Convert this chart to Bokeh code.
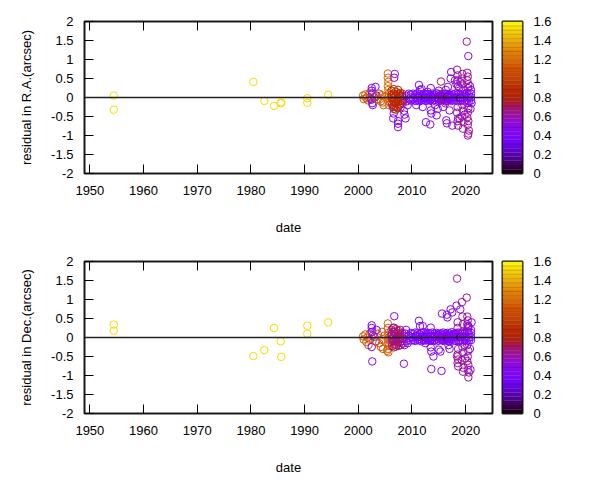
import math
from bokeh.plotting import figure
from bokeh.layouts import row, column
from bokeh.models import (LinearAxis, FixedTicker, CustomJSTickFormatter, Range1d,
                          Span, ColumnDataSource)
from bokeh.embed import file_html
from bokeh.resources import INLINE

FONT = "Liberation Sans"

# ---------------- data ----------------
x_ticks = [1950, 1960, 1970, 1980, 1990, 2000, 2010, 2020]
y_ticks = [-2, -1.5, -1, -0.5, 0, 0.5, 1, 1.5, 2]
cb_ticks = [0, 0.2, 0.4, 0.6, 0.8, 1, 1.2, 1.4, 1.6]

# photographic plates (before 2000)
old_date = [1954.45, 1954.45, 1980.45, 1982.5, 1984.3, 1985.55, 1985.65, 1990.5, 1990.5, 1994.4]
old_ra = [0.05, -0.32, 0.41, -0.09, -0.22, -0.15, -0.13, -0.02, -0.14, 0.07]
old_dec = [0.34, 0.18, -0.49, -0.33, 0.25, -0.10, -0.51, 0.31, 0.10, 0.40]
old_w = 1.52

# 2001-2005, orange group
d1 = [2000.9, 2001.0, 2001.3, 2001.5, 2001.7, 2001.9, 2002.1, 2002.2, 2002.4,
      2003.3, 2003.6, 2003.9, 2004.2, 2004.4, 2004.6, 2004.7, 2004.9]
ra1 = [0.05, -0.04, 0.08, -0.02, 0.02, -0.08, 0.12, 0.00, -0.06,
       0.03, -0.05, 0.10, -0.10, 0.06, -0.13, -0.20, 0.02]
dec1 = [0.03, -0.05, 0.08, -0.12, 0.00, -0.20, 0.10, -0.06, 0.14,
        -0.10, 0.10, -0.15, -0.25, 0.15, -0.30, -0.05, 0.05]
w1_ra, w1_dec = 1.12, 1.12

# 2002-2003, purple group
d2 = [2002.5, 2002.5, 2002.6, 2002.5, 2002.6, 2002.7, 2003.2, 2003.0, 2003.4]
ra2 = [0.25, 0.18, 0.10, -0.05, -0.15, -0.20, 0.28, 0.00, 0.05]
dec2 = [0.32, 0.25, 0.15, -0.25, -0.63, 0.05, -0.10, 0.02, 0.20]
w2_ra, w2_dec = 0.42, 0.42

# 2005, orange column
d3 = [2005.5, 2005.5, 2005.6, 2005.5, 2005.6, 2005.7, 2005.5, 2005.6, 2005.7, 2005.4]
ra3 = [0.63, 0.52, 0.41, 0.30, 0.20, 0.10, 0.00, -0.10, -0.20, 0.05]
dec3 = [0.37, 0.25, 0.12, -0.05, -0.15, -0.22, -0.30, -0.39, 0.00, -0.35]
w3_ra, w3_dec = 1.2, 1.15

# 2006-2008, dense group
d4 = [2006.2, 2006.2, 2006.3, 2006.2, 2006.3, 2006.2,
      2006.6, 2006.7, 2006.6, 2006.6, 2006.7, 2006.6,
      2007.0, 2007.0, 2007.1, 2007.0, 2007.1, 2007.0,
      2007.4, 2007.5, 2007.4, 2007.4, 2007.5, 2007.4,
      2007.8, 2007.8, 2007.9, 2007.8, 2007.9, 2007.8,
      2008.2, 2008.3, 2008.2, 2008.3, 2008.2, 2008.3]
ra4 = [0.18, 0.08, -0.02, -0.12, -0.20, 0.02,
       0.22, 0.10, 0.00, -0.10, -0.22, -0.30,
       0.15, 0.05, -0.05, -0.15, -0.25, -0.32,
       0.20, 0.08, -0.03, -0.12, -0.20, -0.28,
       0.12, 0.02, -0.08, -0.18, -0.26, 0.06,
       0.10, 0.00, -0.10, -0.05, 0.04, -0.15]
dec4 = [0.20, 0.10, -0.02, -0.12, -0.22, 0.05,
        0.26, 0.14, 0.02, -0.08, -0.18, -0.26,
        0.22, 0.10, 0.00, -0.10, -0.20, -0.24,
        0.18, 0.06, -0.04, -0.14, -0.22, 0.12,
        0.20, 0.08, -0.03, -0.12, -0.20, 0.02,
        0.12, 0.00, -0.10, -0.04, 0.06, -0.16]
w4_ra, w4_dec = 0.85, 0.7

# 2006-2009, purple scatter
d5 = [2006.8, 2006.7, 2006.5, 2006.6, 2006.5, 2007.4, 2007.4, 2007.4,
      2008.5, 2008.6, 2008.8, 2009.2, 2008.9, 2009.0, 2009.4, 2009.6]
ra5 = [0.62, 0.52, -0.25, -0.42, -0.55, -0.62, -0.69, -0.78,
       -0.35, -0.45, -0.55, -0.20, 0.05, -0.10, 0.10, -0.05]
dec5 = [0.10, 0.56, 0.25, 0.15, -0.10, 0.05, -0.10, -0.05,
        -0.69, -0.20, 0.10, -0.15, 0.20, -0.10, 0.05, -0.02]
w5_ra, w5_dec = 0.45, 0.45

# 2010-2021, core band
band_date = [2009.8, 2010.2, 2010.6, 2011.0, 2011.4, 2011.8, 2012.2, 2012.6, 2013.0, 2013.4,
             2013.8, 2014.2, 2014.6, 2015.0, 2015.4, 2015.8, 2016.2, 2016.6, 2017.0, 2017.4,
             2017.8, 2018.2, 2018.6, 2019.0, 2019.4, 2019.8, 2020.2, 2020.6, 2021.0]
band_ra_hi = [0.08, 0.10, 0.07, 0.11, 0.09, 0.06, 0.10, 0.08, 0.09, 0.07,
              0.10, 0.08, 0.11, 0.09, 0.06, 0.10, 0.08, 0.09, 0.07, 0.10,
              0.08, 0.11, 0.09, 0.07, 0.10, 0.08, 0.12, 0.09, 0.10]
band_ra_mid = [0.00, -0.02, 0.02, 0.00, -0.01, 0.01, -0.02, 0.00, 0.02, -0.01,
               0.00, 0.01, -0.02, 0.00, 0.02, -0.01, 0.00, 0.01, -0.02, 0.00,
               0.02, -0.01, 0.00, 0.01, -0.02, 0.00, 0.02, -0.01, 0.00]
band_ra_lo = [-0.08, -0.06, -0.09, -0.07, -0.10, -0.08, -0.06, -0.09, -0.07, -0.08,
              -0.10, -0.06, -0.08, -0.09, -0.07, -0.06, -0.10, -0.08, -0.07, -0.09,
              -0.06, -0.08, -0.10, -0.07, -0.09, -0.08, -0.06, -0.10, -0.08]
band_dec_hi = [0.12, 0.10, 0.13, 0.11, 0.09, 0.12, 0.14, 0.10, 0.12, 0.11,
               0.13, 0.10, 0.12, 0.09, 0.11, 0.13, 0.10, 0.12, 0.11, 0.14,
               0.10, 0.12, 0.13, 0.11, 0.10, 0.12, 0.14, 0.11, 0.12]
band_dec_mid = [0.02, 0.00, 0.03, 0.01, 0.02, 0.00, 0.03, 0.02, 0.01, 0.00,
                0.02, 0.03, 0.01, 0.02, 0.00, 0.01, 0.03, 0.02, 0.00, 0.01,
                0.02, 0.03, 0.00, 0.02, 0.01, 0.03, 0.02, 0.00, 0.01]
band_dec_lo = [-0.08, -0.07, -0.09, -0.06, -0.08, -0.10, -0.07, -0.08, -0.06, -0.09,
               -0.08, -0.07, -0.10, -0.08, -0.06, -0.09, -0.07, -0.08, -0.10, -0.06,
               -0.08, -0.09, -0.07, -0.08, -0.10, -0.06, -0.09, -0.08, -0.07]
band_w = 0.4

# 2010-2017, scatter large in R.A.
d7r = [2010.8, 2011.3, 2011.5, 2011.8, 2012.0, 2012.6, 2013.4, 2013.5, 2013.5, 2013.6, 2014.3, 2014.6,
       2014.8, 2015.8, 2016.3, 2016.4, 2016.5, 2016.7, 2017.0, 2017.2, 2017.3, 2017.5, 2012.9, 2015.0]
ra7r = [-0.20, 0.33, 0.20, 0.22, -0.25, -0.65, -0.71, 0.25, -0.34, -0.42, -0.20, -0.47,
        -0.30, -0.25, 0.20, -0.60, -0.68, 0.28, -0.34, 0.50, 0.67, -0.74, 0.15, 0.18]
dec7r = [0.05, -0.04, 0.08, -0.06, 0.03, 0.06, -0.05, 0.04, -0.07, 0.02, 0.05, -0.03,
         0.07, -0.05, 0.04, -0.06, 0.03, 0.06, -0.04, 0.05, -0.02, 0.07, -0.05, 0.04]

# 2011-2017, scatter large in Dec.
d7d = [2011.3, 2011.5, 2012.0, 2012.5, 2013.5, 2013.5, 2013.6, 2013.6, 2014.0, 2015.0,
       2015.3, 2015.5, 2015.6, 2016.5, 2016.6, 2016.8, 2017.0, 2017.2, 2017.5]
ra7d = [0.03, -0.05, 0.06, -0.02, 0.04, -0.06, 0.02, -0.04, 0.05, -0.03,
        0.06, -0.05, 0.03, -0.04, 0.05, -0.02, 0.04, -0.06, 0.03]
dec7d = [0.44, 0.30, 0.30, -0.15, 0.26, -0.26, -0.37, -0.83, -0.50, -0.32,
         -0.37, -0.88, 0.63, 0.60, 0.53, -0.20, -0.30, 0.74, 0.66]
w7 = 0.42

# 2018-2021, magenta columns
d8 = [2018.4, 2018.5, 2018.5, 2018.6, 2018.5, 2018.4, 2018.6, 2018.5, 2018.6,
      2019.3, 2019.4, 2019.5, 2019.4, 2019.5, 2019.3, 2019.6, 2019.5, 2019.4,
      2020.2, 2020.3, 2020.4, 2020.3, 2020.5, 2020.4, 2020.3, 2020.5, 2020.4, 2020.3,
      2020.5, 2020.4, 2020.6, 2020.5, 2020.4]
ra8 = [0.73, 0.58, 0.45, 0.30, -0.25, -0.40, -0.55, -0.62, -0.74,
       0.50, 0.35, 0.20, -0.20, -0.35, -0.50, -0.65, -0.82, 0.62,
       1.47, 0.65, 0.55, 0.45, 0.35, 0.25, -0.15, -0.28, -0.40, -0.52,
       -0.62, -0.72, -0.87, -0.95, -1.00]
dec8 = [1.55, 0.40, 0.25, -0.30, -0.45, -0.50, -0.58, -0.67, -0.76,
        0.93, 0.55, 0.35, -0.25, -0.40, -0.60, -0.80, -0.90, 0.15,
        1.05, 0.55, 0.45, 0.35, 0.25, 0.15, -0.20, -0.35, -0.50, -0.62,
        -0.72, -0.85, -0.92, -1.05, 0.30]
w8 = 0.63

# 2018-2021, purple scatter
d9 = [2018.0, 2018.3, 2019.0, 2020.5, 2020.8, 2021.0, 2019.8, 2020.9, 2018.8, 2021.1, 2018.9, 2019.9]
ra9 = [0.45, 0.35, 0.40, 1.09, 0.30, 0.20, -0.45, -0.30, 0.25, -0.15, -0.55, 0.05]
dec9 = [0.10, 0.84, 0.74, 0.30, -0.30, 0.20, -0.20, -0.85, -0.10, 0.40, 0.05, -0.55]
w9 = 0.45

# 2015-2017, reddish points inside the band
d10 = [2015.2, 2015.6, 2016.0, 2016.4, 2016.8, 2015.4, 2016.2]
ra10 = [0.05, -0.05, 0.10, -0.08, 0.02, 0.42, -0.15]
dec10 = [0.02, -0.06, 0.08, 0.00, -0.10, 0.08, -0.05]
w10_ra, w10_dec = 0.72, 0.55

# low-weight points
d11 = [2012.4, 2016.6, 2019.0]
ra11 = [0.00, 0.02, -0.02]
dec11 = [0.00, -0.02, 0.01]
w11 = 0.08

CB_MAX = 1.6
CB_STEPS = 36


def gp_color(v):
    """gnuplot default palette (rgbformulae 7,5,15) on a 0..CB_MAX scale."""
    x = min(max(v / CB_MAX, 0.0), 1.0)
    r = math.sqrt(x)
    g = x ** 3
    b = max(0.0, math.sin(2 * math.pi * x))
    return "#%02x%02x%02x" % (round(255 * r), round(255 * g), round(255 * b))


groups = [
    (old_date, old_ra, old_dec, old_w, old_w),
    (d1, ra1, dec1, w1_ra, w1_dec),
    (d2, ra2, dec2, w2_ra, w2_dec),
    (d3, ra3, dec3, w3_ra, w3_dec),
    (d4, ra4, dec4, w4_ra, w4_dec),
    (d5, ra5, dec5, w5_ra, w5_dec),
    (band_date, band_ra_hi, band_dec_hi, band_w, band_w),
    (band_date, band_ra_mid, band_dec_mid, band_w, band_w),
    (band_date, band_ra_lo, band_dec_lo, band_w, band_w),
    (d7r, ra7r, dec7r, w7, w7),
    (d7d, ra7d, dec7d, w7, w7),
    (d8, ra8, dec8, w8, w8),
    (d9, ra9, dec9, w9, w9),
    (d10, ra10, dec10, w10_ra, w10_dec),
    (d11, ra11, dec11, w11, w11),
]

rows = []
for dates, ras, decs, wr, wd in groups:
    for t, a, b in zip(dates, ras, decs):
        rows.append((t, a, b, gp_color(wr), gp_color(wd)))
rows.sort(key=lambda r: r[0])

src = ColumnDataSource(dict(
    date=[r[0] for r in rows],
    ra=[r[1] for r in rows],
    dec=[r[2] for r in rows],
    c_ra=[r[3] for r in rows],
    c_dec=[r[4] for r in rows],
))

plain = CustomJSTickFormatter(code="return tick.toString()")
blank = CustomJSTickFormatter(code="return ''")


def style_axis(ax, labels=True):
    ax.major_tick_in = 9
    ax.major_tick_out = 0
    ax.minor_tick_in = 0
    ax.minor_tick_out = 0
    ax.major_tick_line_color = "black"
    ax.axis_line_color = None
    ax.major_label_text_font = FONT
    ax.major_label_text_font_size = "13px"
    ax.major_label_text_color = "black"
    ax.axis_label_text_font = FONT
    ax.axis_label_text_font_size = "13px"
    ax.axis_label_text_font_style = "normal"
    ax.axis_label_text_color = "black"
    if not labels:
        ax.formatter = blank
        ax.major_label_standoff = 0


def panel(ycol, ccol, ylabel):
    p = figure(frame_width=408, frame_height=152,
               x_range=Range1d(1949, 2025), y_range=Range1d(-2, 2),
               min_border_left=84, min_border_right=5, min_border_top=21, min_border_bottom=67,
               output_backend="svg", toolbar_location=None)
    p.grid.visible = False
    p.outline_line_color = "#1a1a1a"
    p.outline_line_width = 2
    p.background_fill_color = "white"
    p.border_fill_color = "white"

    p.xaxis.ticker = FixedTicker(ticks=x_ticks)
    p.yaxis.ticker = FixedTicker(ticks=y_ticks)
    p.xaxis.formatter = plain
    p.yaxis.formatter = plain
    p.xaxis.axis_label = "date"
    p.yaxis.axis_label = ylabel
    style_axis(p.xaxis[0])
    style_axis(p.yaxis[0])
    p.xaxis.major_label_standoff = 12
    p.yaxis.major_label_standoff = 11
    p.xaxis.axis_label_standoff = 22
    p.yaxis.axis_label_standoff = 14

    top = LinearAxis(ticker=FixedTicker(ticks=x_ticks))
    right = LinearAxis(ticker=FixedTicker(ticks=y_ticks))
    style_axis(top, labels=False)
    style_axis(right, labels=False)
    p.add_layout(top, "above")
    p.add_layout(right, "right")

    p.scatter("date", ycol, source=src, size=7.5, fill_color=None,
              line_color=ccol, line_width=1)
    p.add_layout(Span(location=0, dimension="width", line_color="#222222", line_width=1.5))
    return p


def colorbar():
    c = figure(frame_width=20, frame_height=152,
               x_range=Range1d(0, 1), y_range=Range1d(0, CB_MAX),
               min_border_left=5, min_border_right=78, min_border_top=21, min_border_bottom=67,
               x_axis_location=None, y_axis_location="right",
               output_backend="svg", toolbar_location=None)
    c.grid.visible = False
    c.outline_line_color = "#1a1a1a"
    c.outline_line_width = 2
    step = CB_MAX / CB_STEPS
    bottoms = [i * step for i in range(CB_STEPS)]
    tops = [(i + 1) * step for i in range(CB_STEPS)]
    cols = [gp_color((i + 0.5) * step) for i in range(CB_STEPS)]
    c.quad(left=0, right=1, bottom=bottoms, top=tops, fill_color=cols,
           line_color="black", line_alpha=0.18, line_width=0.8)
    c.yaxis.ticker = FixedTicker(ticks=cb_ticks)
    c.yaxis.formatter = plain
    style_axis(c.yaxis[0])
    c.yaxis.major_tick_in = 0
    c.yaxis.major_label_standoff = 11
    return c


p1 = panel("ra", "c_ra", "residual in R.A.(arcsec)")
p2 = panel("dec", "c_dec", "residual in Dec.(arcsec)")
layout = column(row(p1, colorbar()), row(p2, colorbar()))

open("out.html", "w").write(file_html(layout, INLINE))
